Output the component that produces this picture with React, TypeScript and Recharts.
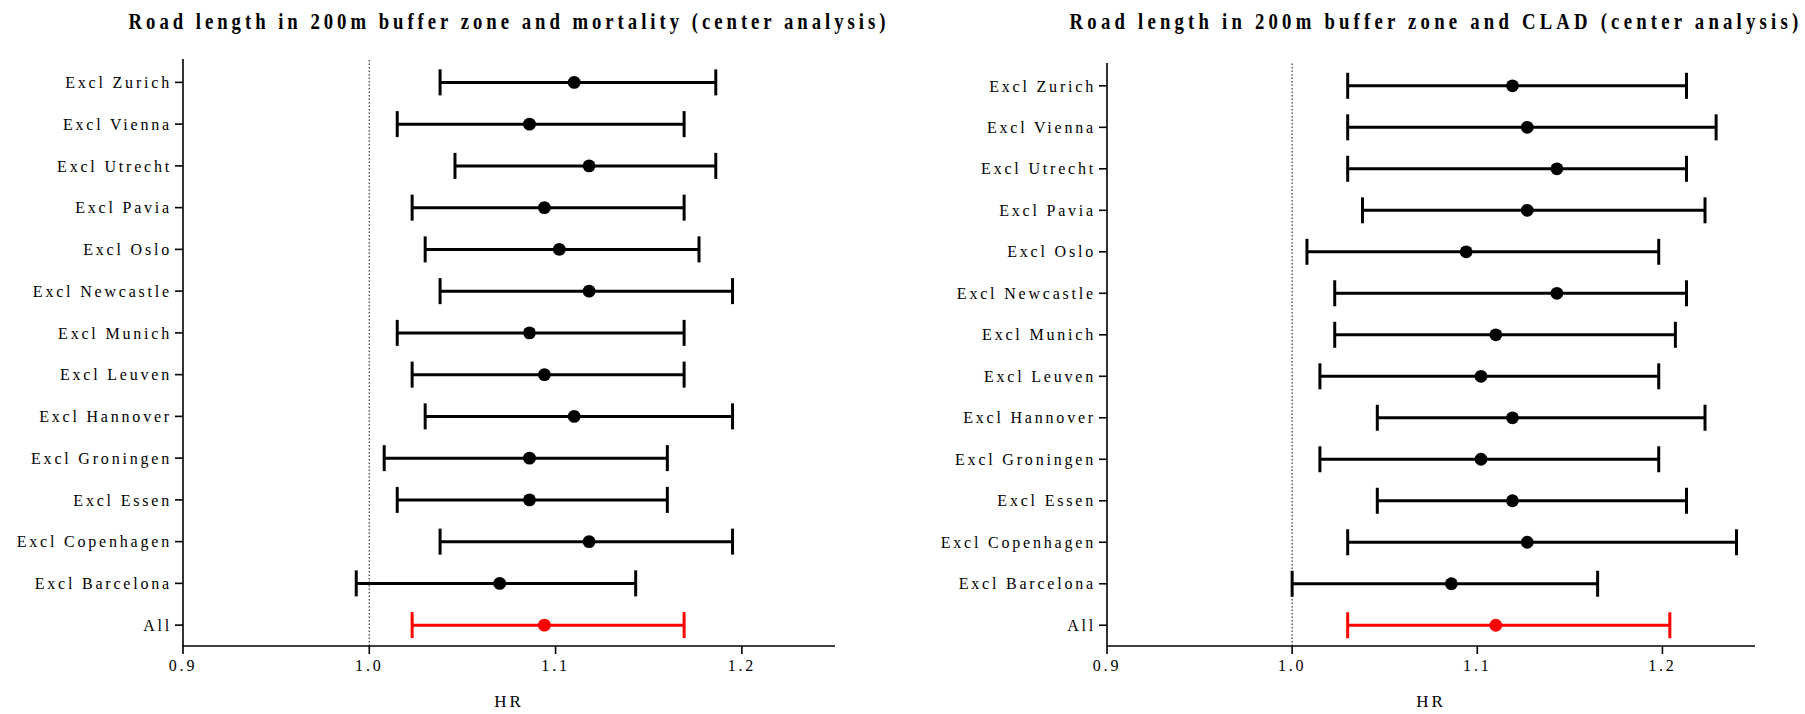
import React from 'react';
import { ScatterChart, Scatter, XAxis, YAxis, ErrorBar, ReferenceLine } from 'recharts';

const rowLabels = [
  'Excl Zurich', 'Excl Vienna', 'Excl Utrecht', 'Excl Pavia', 'Excl Oslo', 'Excl Newcastle',
  'Excl Munich', 'Excl Leuven', 'Excl Hannover', 'Excl Groningen', 'Excl Essen',
  'Excl Copenhagen', 'Excl Barcelona', 'All',
];

const mortalityHR = [1.110, 1.086, 1.118, 1.094, 1.102, 1.118, 1.086, 1.094, 1.110, 1.086, 1.086, 1.118, 1.070, 1.094];
const mortalityLow = [1.038, 1.015, 1.046, 1.023, 1.030, 1.038, 1.015, 1.023, 1.030, 1.008, 1.015, 1.038, 0.993, 1.023];
const mortalityHigh = [1.186, 1.169, 1.186, 1.169, 1.177, 1.195, 1.169, 1.169, 1.195, 1.160, 1.160, 1.195, 1.143, 1.169];

const cladHR = [1.119, 1.127, 1.143, 1.127, 1.094, 1.143, 1.110, 1.102, 1.119, 1.102, 1.119, 1.127, 1.086, 1.110];
const cladLow = [1.030, 1.030, 1.030, 1.038, 1.008, 1.023, 1.023, 1.015, 1.046, 1.015, 1.046, 1.030, 1.000, 1.030];
const cladHigh = [1.213, 1.229, 1.213, 1.223, 1.198, 1.213, 1.207, 1.198, 1.223, 1.198, 1.213, 1.240, 1.165, 1.204];

const xTicks = [0.9, 1.0, 1.1, 1.2];
const titles = [
  'Road length in 200m buffer zone and mortality (center analysis)',
  'Road length in 200m buffer zone and CLAD (center analysis)',
];

const FONT = '"Liberation Serif", "Times New Roman", serif';
const N = rowLabels.length;
const yTicks = rowLabels.map((_, i) => i);

function buildRows(hr: number[], lo: number[], hi: number[]) {
  return rowLabels.map((label, i) => ({
    label,
    pos: N - 1 - i,
    hr: hr[i],
    err: [hr[i] - lo[i], hi[i] - hr[i]],
  }));
}

const dot = (color: string) => (props: any) => (
  <circle cx={props.cx} cy={props.cy} r={6.4} fill={color} stroke="none" />
);

const tickStyle = { fontSize: 16, fill: '#000', fontFamily: FONT, letterSpacing: 2.8 };

function Forest(props: {
  hr: number[]; lo: number[]; hi: number[]; width: number; yAxisWidth: number;
  top: number; right: number; yTop: number;
}) {
  const rows = buildRows(props.hr, props.lo, props.hi);
  const excl = rows.filter((r) => r.label !== 'All');
  const all = rows.filter((r) => r.label === 'All');
  return (
    <ScatterChart
      width={props.width}
      height={714}
      margin={{ top: props.top, right: props.right, bottom: 0, left: 0 }}
    >
      <XAxis
        type="number"
        dataKey="hr"
        domain={[0.9, 1.25]}
        ticks={xTicks}
        allowDataOverflow
        tickFormatter={(v: number) => v.toFixed(1)}
        tickSize={8}
        tickMargin={6}
        height={68}
        axisLine={{ stroke: '#000', strokeWidth: 1.6 }}
        tickLine={{ stroke: '#000', strokeWidth: 1.6 }}
        tick={{ ...tickStyle, fontSize: 16 }}
        label={{ value: 'HR', position: 'insideBottom', offset: 7, fill: '#000', fontSize: 17, fontFamily: FONT, letterSpacing: 3 } as any}
      />
      <YAxis
        type="number"
        dataKey="pos"
        domain={[-0.5, props.yTop]}
        ticks={yTicks}
        allowDataOverflow
        width={props.yAxisWidth}
        tickFormatter={(v: number) => rowLabels[N - 1 - v]}
        tickSize={8}
        tickMargin={3}
        axisLine={{ stroke: '#000', strokeWidth: 1.6 }}
        tickLine={{ stroke: '#000', strokeWidth: 1.6 }}
        tick={tickStyle}
      />
      <ReferenceLine x={1} stroke="#333" strokeWidth={1.2} strokeDasharray="1.5 2" />
      <Scatter data={excl} shape={dot('#000')} isAnimationActive={false}>
        <ErrorBar dataKey="err" direction="x" width={13} strokeWidth={3} stroke="#000" />
      </Scatter>
      <Scatter data={all} shape={dot('#ff0000')} isAnimationActive={false}>
        <ErrorBar dataKey="err" direction="x" width={13} strokeWidth={3} stroke="#ff0000" />
      </Scatter>
    </ScatterChart>
  );
}

export default function App() {
  return (
    <div style={{ position: 'absolute', left: 0, top: 0, width: 1805, height: 714, background: '#fff', overflow: 'hidden' }}>
      <div style={{ position: 'absolute', left: 0, top: 0 }}>
        <Forest hr={mortalityHR} lo={mortalityLow} hi={mortalityHigh} width={900} yAxisWidth={183} top={59} right={65} yTop={13.56} />
      </div>
      <div style={{ position: 'absolute', left: 900, top: 0 }}>
        <Forest hr={cladHR} lo={cladLow} hi={cladHigh} width={905} yAxisWidth={207} top={63} right={50} yTop={13.55} />
      </div>
      <svg width={1805} height={60} style={{ position: 'absolute', left: 0, top: 0, pointerEvents: 'none' }}>
        <text transform="translate(509,29) scale(0.78,1)" textAnchor="middle" fontFamily={FONT} fontWeight="bold" fontSize={24} letterSpacing={5.1} fill="#000">
          {titles[0]}
        </text>
        <text transform="translate(1436,29) scale(0.78,1)" textAnchor="middle" fontFamily={FONT} fontWeight="bold" fontSize={24} letterSpacing={5.4} fill="#000">
          {titles[1]}
        </text>
      </svg>
    </div>
  );
}
